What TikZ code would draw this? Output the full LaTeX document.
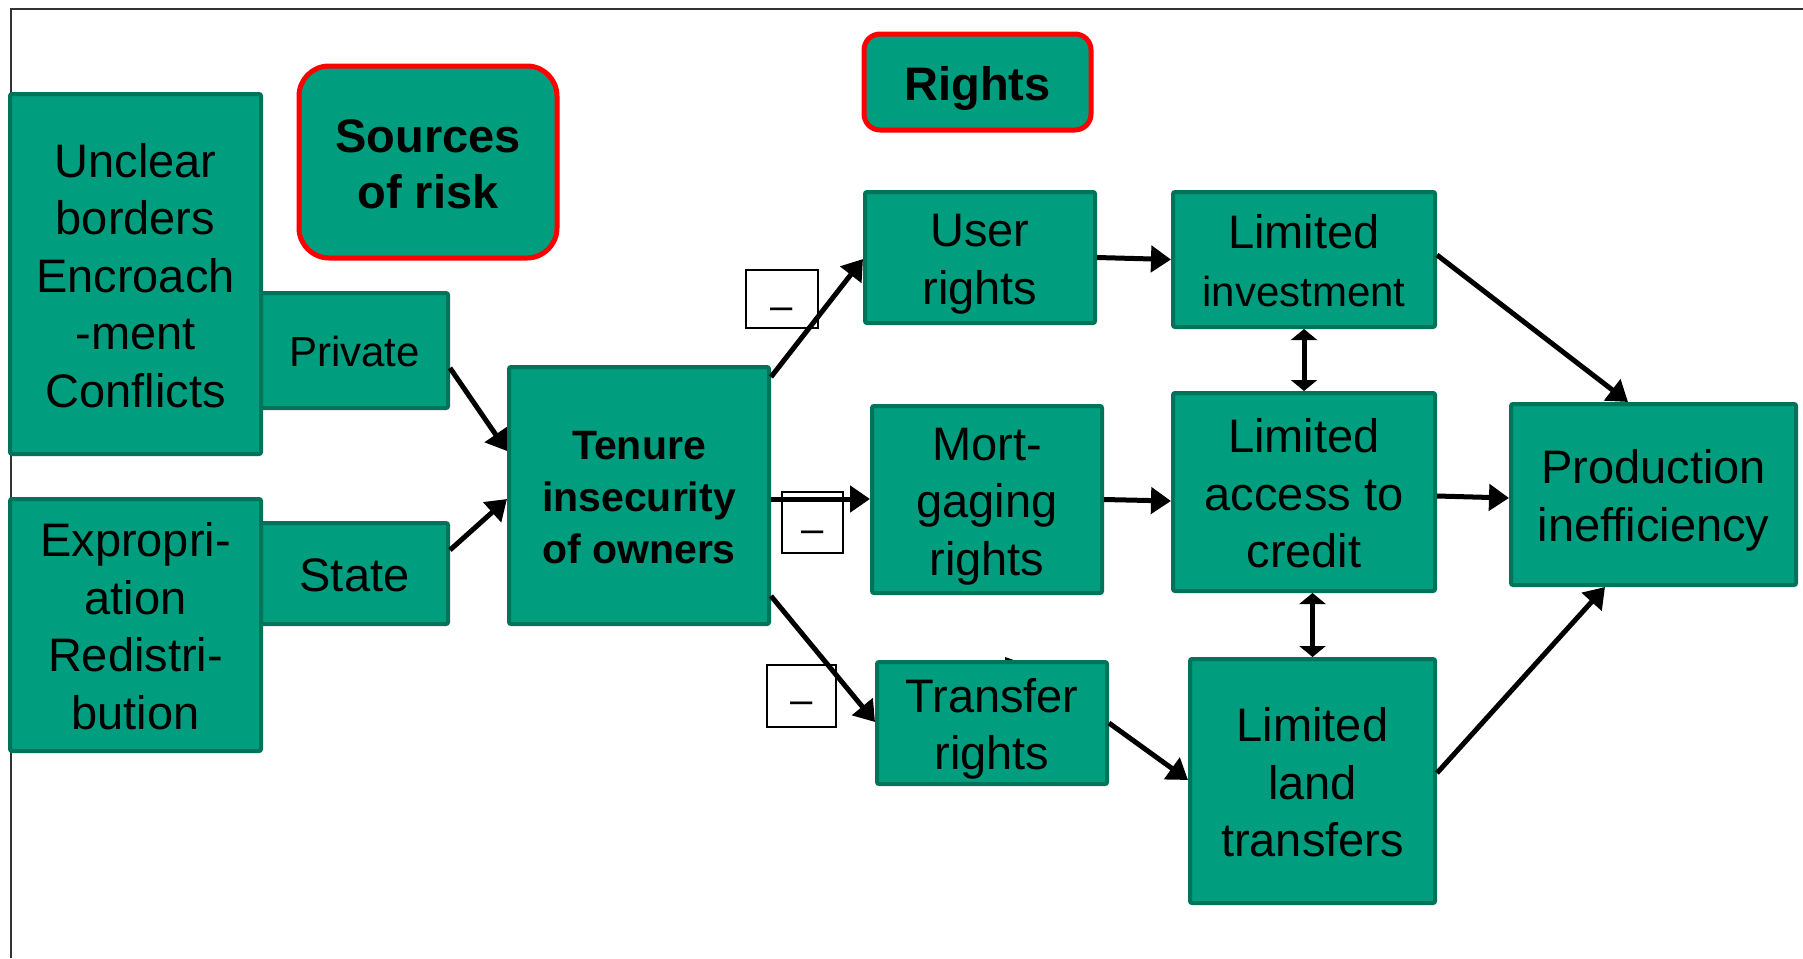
\documentclass[tikz,border=0pt]{standalone}
\usepackage{fontspec}
\setmainfont{Liberation Sans}
\usetikzlibrary{arrows.meta,calc}
\definecolor{gfill}{HTML}{009D7E}
\definecolor{gline}{HTML}{00735B}
\definecolor{rline}{HTML}{FF0000}
\newcommand{\topstrut}{\rule{0pt}{1.0em}}
\newcommand{\botstrut}{\rule[-0.234em]{0pt}{0.234em}}
\tikzset{
  strutted/.style={execute at begin node=\topstrut, execute at end node=\botstrut},
  gbox/.style={draw=gline, fill=gfill, line width=2pt, rounded corners=1pt, inner sep=0pt, align=center, text=black, font=\fontsize{23.5}{28.75}\selectfont, strutted},
  rbox/.style={draw=rline, fill=gfill, line width=2.5pt, inner sep=0pt, align=center, text=black, font=\fontsize{23.5}{28}\selectfont\bfseries, strutted},
  mbox/.style={draw=black, fill=white, line width=0.8pt, inner sep=0pt, font=\fontsize{20}{20}\selectfont},
  arr/.style={line width=2.5pt, -{Triangle[length=10pt,width=13pt]}},
  darr/.style={line width=2.5pt, {Triangle[length=5.5pt,width=13pt]}-{Triangle[length=5.5pt,width=13pt]}},
}
\begin{document}
\begin{tikzpicture}[x=0.5pt,y=-0.5pt]
\useasboundingbox (0,0) rectangle (1803,958);
\fill[white] (0,0) rectangle (1803,958);
\draw[line width=1pt, black!80] (11,958) -- (11,9) -- (1803,9);
% minus boxes
\node[mbox, minimum width=36pt, minimum height=29pt] (m1) at (782,299) {\smash{\raisebox{-10pt}{–}}};
\node[mbox, minimum width=30.5pt, minimum height=30.5pt] (m2) at (812.5,522.5) {\smash{\raisebox{-10pt}{–}}};
\node[mbox, minimum width=34.5pt, minimum height=31pt] (m3) at (801.5,696) {\smash{\raisebox{-8.5pt}{–}}};
% left side
\node[gbox, minimum width=125.5pt, minimum height=180pt] (unclear) at (135.5,274) {\topstrut Unclear\\borders\\Encroach\\-ment\\Conflicts};
\node[gbox, minimum width=93.5pt, minimum height=57.5pt, font=\fontsize{21}{25}\selectfont] (private) at (354.5,350.5) {Private};
\node[gbox, minimum width=125.5pt, minimum height=126pt] (expro) at (135.5,625) {\topstrut Expropri-\\ation\\Redistri-\\bution};
\node[gbox, minimum width=93.5pt, minimum height=50.5pt] (state) at (354.5,573.5) {State};
\node[rbox, rounded corners=15pt, minimum width=129pt, minimum height=96pt] (sources) at (428,162) {\topstrut Sources\\of risk};
\node[rbox, rounded corners=8pt, minimum width=113.5pt, minimum height=48pt] (rights) at (977.5,82) {Rights};
\node[gbox, minimum width=130pt, minimum height=128.5pt, font=\fontsize{20.5}{26}\selectfont\bfseries] (tenure) at (639,495.5) {\topstrut Tenure\\insecurity\\of owners};
% rights column
\node[gbox, minimum width=115pt, minimum height=65.5pt] (user) at (980,257.5) {\topstrut User\\rights};
\node[gbox, minimum width=115pt, minimum height=93.5pt] (mort) at (987,499.5) {\topstrut Mort-\\gaging\\rights};
\fill[black] (1005,657) -- (1005,663) -- (1022,663) -- cycle;
\node[gbox, minimum width=115pt, minimum height=61pt] (transfer) at (992,723) {\topstrut Transfer\\rights};
% effects
\node[gbox, minimum width=131pt, minimum height=67.5pt] (invest) at (1304,259.5) {\topstrut Limited\\{\fontsize{21}{27.5}\selectfont investment}};
\node[gbox, minimum width=131pt, minimum height=99pt] (credit) at (1304,492) {\topstrut Limited\\access to\\credit};
\node[gbox, minimum width=122.5pt, minimum height=122pt] (land) at (1312.5,781) {\topstrut Limited\\land\\transfers};
\node[gbox, minimum width=142.5pt, minimum height=90.5pt] (prod) at (1653.5,494.5) {\topstrut Production\\inefficiency};
% connectors
\draw[arr] ($(private.east)+(0,17.5)$) -- ($(tenure.west)+(0,-44.5)$);
\draw[arr] ($(state.east)+(0,-23.5)$) -- ($(tenure.west)+(0,3.5)$);
\draw[arr] ($(tenure.east)+(0,-118.5)$) -- ($(user.west)+(0,1.5)$);
\draw[arr] ($(tenure.east)+(0,3.5)$) -- ($(mort.west)+(0,-0.5)$);
\draw[arr] ($(tenure.east)+(0,100.5)$) -- ($(transfer.west)+(0,-1)$);
\draw[arr] (user.east) -- (invest.west);
\draw[arr] (mort.east) -- ($(credit.west)+(0,9)$);
\draw[arr] (transfer.east) -- ($(land.west)+(0,-1)$);
\draw[arr] ($(invest.east)+(0,-4.5)$) -- ($(prod.north)+(-25.5,0)$);
\draw[arr] ($(credit.east)+(0,4)$) -- ($(prod.west)+(0,3.5)$);
\draw[arr] ($(land.east)+(0,-8)$) -- ($(prod.south)+(-48.5,0)$);
\draw[darr] (invest.south) -- (credit.north);
\draw[darr] (land.north |- credit.south) -- (land.north);
\end{tikzpicture}
\end{document}
